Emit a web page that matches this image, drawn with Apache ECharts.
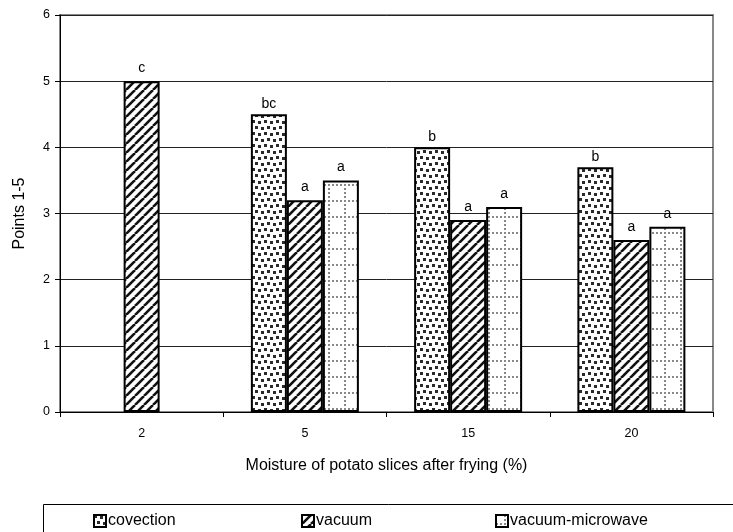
<!DOCTYPE html>
<html>
<head>
<meta charset="utf-8">
<script src="https://cdn.jsdelivr.net/npm/echarts@6/dist/echarts.min.js"></script>
<style>html,body{margin:0;padding:0;background:#fff}#c{width:733px;height:532px}</style>
</head>
<body>
<div id="c"></div>
<script>
var categories = ['2', '5', '15', '20'];
var seriesNames = ['covection', 'vacuum', 'vacuum-microwave'];
var covection = [null, 4.5, 4.0, 3.7];
var vacuum = [5.0, 3.2, 2.9, 2.6];
var vacuumMicrowave = [null, 3.5, 3.1, 2.8];
var covectionLetters = ['', 'bc', 'b', 'b'];
var vacuumLetters = ['c', 'a', 'a', 'a'];
var vacuumMicrowaveLetters = ['', 'a', 'a', 'a'];
var yTicks = [0, 1, 2, 3, 4, 5, 6];

function mk(w, h, draw) {
  var c = document.createElement('canvas');
  c.width = w; c.height = h;
  var ctx = c.getContext('2d');
  ctx.fillStyle = '#fff'; ctx.fillRect(0, 0, w, h);
  draw(ctx);
  return c;
}
var dotsPat = mk(12, 12, function (ctx) {
  ctx.fillStyle = '#2a2a2a';
  ctx.fillRect(0, 0, 3, 3);
  ctx.fillRect(6, 1, 3, 3);
  ctx.fillRect(3, 6, 3, 3);
  ctx.fillRect(9, 7, 3, 3);
});
var stripePat = mk(9, 9, function (ctx) {
  ctx.strokeStyle = '#111'; ctx.lineWidth = 2.6;
  [-9, 0, 9].forEach(function (k) {
    ctx.beginPath(); ctx.moveTo(k, 9); ctx.lineTo(k + 9, 0); ctx.stroke();
  });
});
var gridPat = mk(16, 16, function (ctx) {
  ctx.fillStyle = '#888';
  for (var i = 0; i < 16; i += 4) {
    ctx.fillRect(8, i, 2, 2);
    ctx.fillRect(i, 8, 2, 2);
  }
});

var font = 'Liberation Sans, Arial, sans-serif';

function mkSeries(name, data, letters, pat, dist) {
  return {
    name: name, type: 'bar', data: data,
    barWidth: 36, barGap: '0%',
    itemStyle: { color: { image: pat, repeat: 'repeat' }, borderColor: '#000', borderWidth: 2 },
    label: {
      show: true, position: 'top', distance: dist,
      fontFamily: font, fontSize: 14, color: '#000',
      formatter: function (p) { return letters[p.dataIndex] || ''; }
    },
    emphasis: { disabled: true },
    animation: false
  };
}

function mkLegend(name, left) {
  return {
    data: [name], left: left, top: 508, itemWidth: 12, itemHeight: 12, itemGap: 4,
    icon: 'rect', selectedMode: false,
    textStyle: { fontFamily: font, fontSize: 16, color: '#000', padding: [0, 0, 0, -3] }
  };
}

var chart = echarts.init(document.getElementById('c'), null, { renderer: 'canvas' });
chart.setOption({
  animation: false,
  backgroundColor: '#fff',
  grid: { left: 60, right: 20, top: 15, bottom: 120, show: true, borderColor: '#888', borderWidth: 2, backgroundColor: 'transparent' },
  legend: [mkLegend(seriesNames[0], 88), mkLegend(seriesNames[1], 296), mkLegend(seriesNames[2], 490)],
  graphic: [{
    type: 'rect', shape: { x: 43.5, y: 504.5, width: 700, height: 40 },
    style: { fill: 'none', stroke: '#000', lineWidth: 1 }, silent: true
  }],
  xAxis: {
    type: 'category', data: categories,
    name: 'Moisture of potato slices after frying (%)', nameLocation: 'middle', nameGap: 46,
    nameTextStyle: { fontFamily: font, fontSize: 16, color: '#000' },
    axisLine: { lineStyle: { color: '#000', width: 1 } },
    axisTick: { show: true, length: 5, lineStyle: { color: '#000' } },
    axisLabel: { fontFamily: font, fontSize: 12.5, color: '#000', margin: 15 }
  },
  yAxis: {
    type: 'value', min: yTicks[0], max: yTicks[yTicks.length - 1], interval: 1,
    name: 'Points 1-5', nameLocation: 'middle', nameGap: 32, nameRotate: 90,
    nameTextStyle: { fontFamily: font, fontSize: 16, color: '#000' },
    axisLine: { show: true, lineStyle: { color: '#000', width: 1 } },
    axisTick: { show: true, length: 5, lineStyle: { color: '#000' } },
    axisLabel: { fontFamily: font, fontSize: 12.5, color: '#000', margin: 10 },
    splitLine: { show: true, lineStyle: { color: '#222', width: 1 } }
  },
  series: [
    mkSeries(seriesNames[0], covection, covectionLetters, dotsPat, 3),
    mkSeries(seriesNames[1], vacuum, vacuumLetters, stripePat, 6),
    mkSeries(seriesNames[2], vacuumMicrowave, vacuumMicrowaveLetters, gridPat, 6)
  ]
});
</script>
</body>
</html>
